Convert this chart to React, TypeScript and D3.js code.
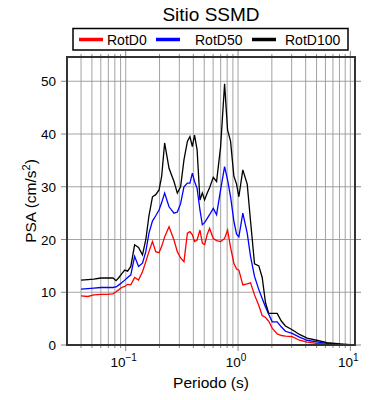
import React from 'react';
import * as d3 from 'd3';

const periods = [
  0.04, 0.046, 0.052, 0.06, 0.068, 0.077, 0.082, 0.087, 0.092, 0.098, 0.104, 0.111, 0.12, 0.13,
  0.141, 0.151, 0.161, 0.173, 0.185, 0.198, 0.209, 0.222, 0.243, 0.269, 0.288, 0.308, 0.33,
  0.354, 0.373, 0.392, 0.41, 0.432, 0.458, 0.481, 0.504, 0.532, 0.558, 0.602, 0.644, 0.699,
  0.759, 0.807, 0.858, 0.918, 0.97, 1.017, 1.103, 1.207, 1.292, 1.402, 1.531, 1.641, 1.756,
  1.878, 2.014, 2.23, 2.436, 2.644, 3.033, 3.522, 4.122, 4.987, 6.208, 8.149, 10,
];

const rotD0 = [
  9.3, 9.2, 9.5, 9.6, 9.6, 9.7, 10.1, 10.5, 10.9, 11.1, 11.5, 11.4, 12.8, 12.3, 13.9, 15.8,
  17.7, 19.6, 17.7, 17.5, 18.7, 20.5, 22.4, 19.9, 17.7, 16.5, 15.8, 21.2, 21.5, 20.9, 19.6,
  19.9, 21.8, 19.3, 19.0, 21.0, 22.1, 20.2, 19.8, 19.6, 20.2, 21.8, 18.5, 15.5, 14.4, 14.2,
  11.4, 11.6, 11.8, 9.5, 7.5, 5.6, 5.2, 4.5, 3.2, 2.1, 1.8, 1.7, 1.6, 0.9, 0.55, 0.3, 0.15,
  0.05, 0.02,
];

const rotD50 = [
  10.6, 10.7, 10.8, 10.9, 10.9, 10.9, 11.0, 11.4, 11.8, 12.3, 12.8, 13.3, 16.8, 14.9, 15.5,
  17.7, 21.2, 23.5, 24.5, 25.6, 27.0, 28.8, 26.2, 25.0, 25.2, 26.8, 30.0, 30.7, 30.7, 32.6,
  31.0, 29.7, 25.6, 22.8, 23.2, 24.0, 24.7, 25.9, 24.7, 29.4, 33.8, 31.3, 28.1, 23.5, 21.0,
  20.5, 25.0, 21.2, 16.8, 13.0, 10.5, 8.8, 7.2, 5.8, 4.4, 4.4, 3.4, 2.6, 2.2, 1.5, 0.9, 0.6,
  0.3, 0.12, 0.03,
];

const rotD100 = [
  12.3, 12.4, 12.5, 12.7, 12.7, 12.7, 12.2, 12.8, 13.5, 14.2, 14.0, 14.9, 19.0, 18.5, 17.1,
  20.0, 24.5, 28.1, 28.5, 29.4, 32.0, 38.3, 33.5, 31.0, 28.8, 30.0, 35.1, 38.6, 39.5, 37.6,
  39.8, 37.0, 27.5, 28.8, 27.5, 28.8, 29.8, 31.8, 31.0, 37.5, 49.5, 40.8, 38.6, 32.0, 30.5,
  28.1, 33.2, 30.5, 23.5, 15.4, 15.0, 12.8, 8.0, 6.0, 6.0, 6.0, 4.5, 3.6, 2.9, 2.0, 1.3, 0.9,
  0.45, 0.2, 0.05,
];

const seriesNames = ['RotD0', 'RotD50', 'RotD100'];
const seriesColors = ['#ff0000', '#0000ff', '#000000'];
const yTicks = [0, 10, 20, 30, 40, 50];
const xDecades = [0.1, 1, 10];
const xDecadeExp = ['\u22121', '0', '1'];

const font = '"Liberation Sans", Arial, Helvetica, sans-serif';

export default function App() {
  const width = 390;
  const height = 400;
  const left = 67, right = 355, top = 57, bottom = 345;

  const x = d3.scaleLog().domain([0.03, 11]).range([left, right]);
  const y = d3.scaleLinear().domain([0, 54.6]).range([bottom, top]);

  const allSeries = [rotD0, rotD50, rotD100];
  const line = d3.line<number>()
    .x((_, i) => x(periods[i]))
    .y(d => y(d));

  const xGrid = x.ticks().filter(t => t > 0.0301);
  const isDecade = (t: number) => Math.abs(Math.log10(t) - Math.round(Math.log10(t))) < 1e-6;

  const legendItems = [
    { lx: 79, tx: 107 },
    { lx: 156, tx: 195 },
    { lx: 252, tx: 285 },
  ];

  return (
    <svg width={width} height={height} style={{ position: 'absolute', left: 0, top: 0, background: '#fff' }}
      fontFamily={font}>
      <rect x={0} y={0} width={width} height={height} fill="#fff" />

      {/* grid */}
      {xGrid.map((t, i) => (
        <line key={'gx' + i} x1={x(t)} x2={x(t)} y1={top} y2={bottom} stroke="#999" strokeWidth={0.9} />
      ))}
      {yTicks.filter(v => v > 0).map(v => (
        <line key={'gy' + v} x1={left} x2={right} y1={y(v)} y2={y(v)} stroke="#999" strokeWidth={0.9} />
      ))}

      {/* ticks outside */}
      {xGrid.map((t, i) => {
        const len = isDecade(t) ? 6 : 3;
        return (
          <g key={'tx' + i}>
            <line x1={x(t)} x2={x(t)} y1={bottom} y2={bottom + len} stroke="#888" strokeWidth={1} />
            <line x1={x(t)} x2={x(t)} y1={top} y2={top - len} stroke="#888" strokeWidth={1} />
          </g>
        );
      })}
      {yTicks.map(v => (
        <g key={'ty' + v}>
          <line x1={left - 6} x2={left} y1={y(v)} y2={y(v)} stroke="#888" strokeWidth={1} />
          <line x1={right} x2={right + 6} y1={y(v)} y2={y(v)} stroke="#888" strokeWidth={1} />
        </g>
      ))}

      {/* series */}
      {allSeries.map((s, i) => (
        <path key={seriesNames[i]} d={line(s) || ''} fill="none" stroke={seriesColors[i]}
          strokeWidth={1.3} strokeLinejoin="miter" />
      ))}

      {/* frame */}
      <rect x={left} y={top} width={right - left} height={bottom - top} fill="none" stroke="#333" strokeWidth={2} />

      {/* y tick labels */}
      {yTicks.map(v => (
        <text key={'ly' + v} x={56} y={y(v) + 5} textAnchor="end" fontSize={13.5} fill="#000">{v}</text>
      ))}

      {/* x tick labels */}
      {xDecades.map((t, i) => (
        <text key={'lx' + i} x={x(t) - 2} y={367} textAnchor="middle" fontSize={13.5} fill="#000">
          10<tspan dy={-6} fontSize={10}>{xDecadeExp[i]}</tspan>
        </text>
      ))}

      {/* axis titles */}
      <text x={(left + right) / 2} y={388} textAnchor="middle" fontSize={15.5} fill="#000">Periodo (s)</text>
      <text transform={`translate(36, ${(top + bottom) / 2}) rotate(-90)`} textAnchor="middle" fontSize={15.5} fill="#000">
        PSA (cm/s<tspan dy={-6} fontSize={11}>2</tspan><tspan dy={6}>)</tspan>
      </text>

      {/* title */}
      <text x={(left + right) / 2} y={21} textAnchor="middle" fontSize={19} fill="#000">Sitio SSMD</text>

      {/* legend */}
      <rect x={73} y={28.5} width={275} height={21.5} fill="#fff" stroke="#000" strokeWidth={1.5} />
      {legendItems.map((it, i) => (
        <g key={'lg' + i}>
          <line x1={it.lx} x2={it.lx + 24} y1={39.5} y2={39.5} stroke={seriesColors[i]} strokeWidth={3.5} />
          <text x={it.tx} y={44.5} fontSize={14} fill="#000">{seriesNames[i]}</text>
        </g>
      ))}
    </svg>
  );
}
